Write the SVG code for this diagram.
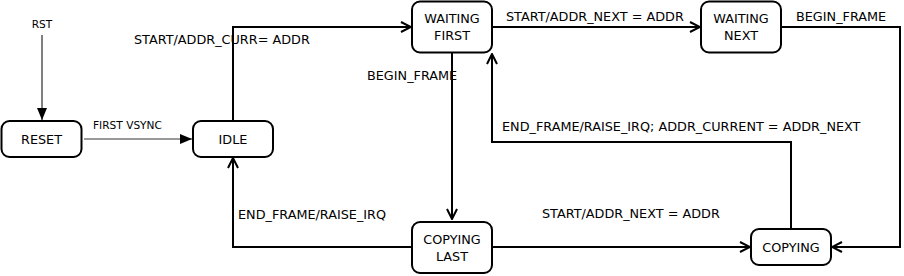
<svg xmlns="http://www.w3.org/2000/svg" width="904" height="276" viewBox="0 0 904 276">
<defs>
<style>
.node rect{fill:#fff;stroke:#000;stroke-width:2}
.node text{font-family:"DejaVu Sans",sans-serif;font-size:12.8px;fill:#000;text-anchor:middle}
.edge{fill:none;stroke:#000;stroke-width:2}
.lbl{font-family:"DejaVu Sans",sans-serif;font-size:12.8px;fill:#000}
.small{font-family:"DejaVu Sans",sans-serif;font-size:10.6px;fill:#000}
</style>
<marker id="open" viewBox="0 0 12 12" refX="11" refY="6" markerWidth="12" markerHeight="12" markerUnits="userSpaceOnUse" orient="auto">
<path d="M1,1 L11,6 L1,11" fill="none" stroke="#000" stroke-width="2"/>
</marker>
<marker id="filled" viewBox="0 0 12 10" refX="12" refY="5" markerWidth="12" markerHeight="10" markerUnits="userSpaceOnUse" orient="auto">
<path d="M0,0 L12,5 L0,10 Z" fill="#000"/>
</marker>
</defs>
<g id="connectors">
<line x1="42" y1="35" x2="42" y2="120" stroke="#000" stroke-width="1" marker-end="url(#filled)"/>
<line x1="84" y1="139" x2="192" y2="139" stroke="#333" stroke-width="1" marker-end="url(#filled)"/>
<polyline class="edge" points="233,121 233,27 411,27" marker-end="url(#open)"/>
<polyline class="edge" points="492,27 700,27" marker-end="url(#open)"/>
<polyline class="edge" points="781,27 900,27 900,247 832,247" marker-end="url(#open)"/>
<polyline class="edge" points="452,53 452,219" marker-end="url(#open)"/>
<polyline class="edge" points="492,247 750,247" marker-end="url(#open)"/>
<polyline class="edge" points="412,247 233,247 233,158" marker-end="url(#open)"/>
<polyline class="edge" points="791,229 791,142 492,142 492,54" marker-end="url(#open)"/>
</g>
<g id="labels">
<text class="small" x="42" y="28" text-anchor="middle">RST</text>
<text class="small" x="93" y="129">FIRST VSYNC</text>
<text class="lbl" x="134" y="44">START/ADDR_CURR= ADDR</text>
<text class="lbl" x="506" y="21">START/ADDR_NEXT = ADDR</text>
<text class="lbl" x="796" y="21">BEGIN_FRAME</text>
<text class="lbl" x="367" y="80">BEGIN_FRAME</text>
<text class="lbl" x="502" y="131">END_FRAME/RAISE_IRQ; ADDR_CURRENT = ADDR_NEXT</text>
<text class="lbl" x="238" y="219">END_FRAME/RAISE_IRQ</text>
<text class="lbl" x="542" y="218">START/ADDR_NEXT = ADDR</text>
</g>
<g id="reset" class="node"><rect x="1.5" y="121" width="80" height="36" rx="8"/><text x="41.5" y="143.5">RESET</text></g>
<g id="idle" class="node"><rect x="193" y="121" width="80" height="36" rx="8"/><text x="233" y="143.5">IDLE</text></g>
<g id="waiting-first" class="node"><rect x="412" y="1.5" width="80" height="51" rx="8"/><text x="452" y="23">WAITING</text><text x="452" y="40">FIRST</text></g>
<g id="waiting-next" class="node"><rect x="701" y="1.5" width="80" height="51" rx="8"/><text x="741" y="23">WAITING</text><text x="741" y="40">NEXT</text></g>
<g id="copying-last" class="node"><rect x="412" y="222" width="80" height="51" rx="8"/><text x="452" y="244">COPYING</text><text x="452" y="261">LAST</text></g>
<g id="copying" class="node"><rect x="751" y="229" width="80" height="36" rx="8"/><text x="791" y="251.5">COPYING</text></g>
</svg>
